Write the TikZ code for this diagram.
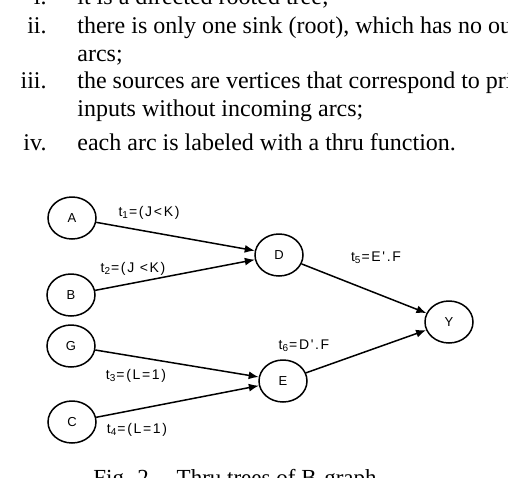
\documentclass[tikz,border=0pt]{standalone}
\usepackage{fontspec}
\setmainfont{Liberation Serif}
\newfontfamily\diagfont[LetterSpace=12]{Liberation Sans}
\usetikzlibrary{shapes.geometric,arrows.meta}
\begin{document}
\begin{tikzpicture}[x=0.5pt,y=-0.5pt,
  vertex/.style={draw,ellipse,line width=0.75pt,minimum width=24pt,minimum height=21pt,inner sep=0pt,font=\diagfont\fontsize{6.5}{7}\selectfont},
  thru/.style={inner sep=0pt,font=\diagfont\fontsize{7}{8}\selectfont},
  arc/.style={line width=0.75pt,-{Latex[length=5pt,width=4pt]}},
  item/.style={inner sep=0pt,anchor=base east,font=\fontsize{12}{14}\selectfont},
  body/.style={inner sep=0pt,anchor=base west,font=\fontsize{12}{14}\selectfont}]
\useasboundingbox (0,0) rectangle (508,477);
\clip (0,0) rectangle (508,477);
\node[item] (n1) at (47,4.5) {i.};
\node[body] (l1) at (77,4.5) {it is a directed rooted tree;};
\node[item] (n2) at (47,33) {ii.};
\node[body] (l2) at (77,33) {there is only one sink (root), which has no outgoing};
\node[body] (l2b) at (77,61) {arcs;};
\node[item] (n3) at (47,88) {iii.};
\node[body] (l3) at (77,88) {the sources are vertices that correspond to primary};
\node[body] (l3b) at (77,116) {inputs without incoming arcs;};
\node[item] (n4) at (47,150) {iv.};
\node[body] (l4) at (77,150) {each arc is labeled with a thru function.};
\node[vertex] (A) at (72,218) {A};
\node[vertex] (B) at (71,295) {B};
\node[vertex] (G) at (71,346) {G};
\node[vertex] (C) at (72,422) {C};
\node[vertex] (D) at (279,255) {D};
\node[vertex] (E) at (283,381) {E};
\node[vertex] (Y) at (449,322) {Y};
\draw[arc] (A) -- (D);
\draw[arc] (B) -- (D);
\draw[arc] (G) -- (E);
\draw[arc] (C) -- (E);
\draw[arc] (D) -- (Y);
\draw[arc] (E) -- (Y);
\node[thru] (t1) at (149,213) {t\textsubscript{1}=(J<K)};
\node[thru] (t2) at (133,269) {t\textsubscript{2}=(J <K)};
\node[thru] (t3) at (136,376) {t\textsubscript{3}=(L=1)};
\node[thru] (t4) at (137,430) {t\textsubscript{4}=(L=1)};
\node[thru] (t5) at (376,258) {t\textsubscript{5}=E'.F};
\node[thru] (t6) at (304,346) {t\textsubscript{6}=D'.F};
\node[inner sep=0pt,anchor=base west,font=\fontsize{11.5}{13}\selectfont] (cap) at (93,485) {Fig. 2.\hspace{11pt}Thru trees of B-graph};
\end{tikzpicture}
\end{document}
